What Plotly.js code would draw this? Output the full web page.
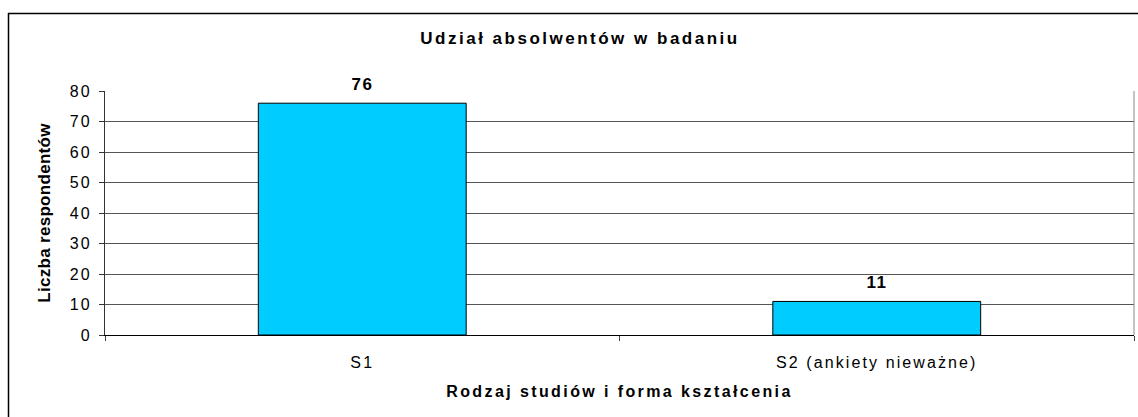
<!DOCTYPE html>
<html>
<head>
<meta charset="utf-8">
<script src="https://cdn.plot.ly/plotly-3.0.1.min.js"></script>
<style>
  html, body { margin: 0; padding: 0; background: #fff; overflow: hidden; }
  #chart { width: 1138px; height: 417px; }
  #chart .gtitle { letter-spacing: 2.5px; }
  #chart .xtitle { letter-spacing: 2.4px; }
  #chart .ytitle { letter-spacing: 0.3px; }
  #chart .xtick text, #chart .ytick text { letter-spacing: 2.1px; }
  #chart .annotation-text { letter-spacing: 1.5px; }
</style>
</head>
<body>
<div id="chart"></div>
<script>
const categories = ["S1", "S2 (ankiety nieważne)"];
const values = [76, 11];
const chartTitle = "Udział absolwentów w badaniu";
const xTitle = "Rodzaj studiów i forma kształcenia";
const yTitle = "Liczba respondentów";

const FONT = "Liberation Sans, Arial, sans-serif";

const trace = {
  type: "bar",
  x: categories,
  y: values,
  width: 0.404,
  marker: { color: "#00CCFF", line: { color: "#000000", width: 1 } },
  hoverinfo: "none"
};

const annotations = categories.map((c, i) => ({
  x: c, y: values[i], xref: "x", yref: "y",
  text: String(values[i]),
  showarrow: false, yanchor: "bottom", yshift: 7,
  font: { family: FONT, size: 17, color: "#000", weight: "bold" }
}));

const plotL = 105, plotR = 1134, plotT = 91, plotB = 335;
const pw = plotR - plotL, ph = plotB - plotT;
const px = v => (v - plotL) / pw;
const py = v => (plotB - v) / ph;

const layout = {
  width: 1138, height: 417,
  margin: { l: plotL, r: 1138 - plotR, t: plotT, b: 417 - plotB, pad: 0 },
  paper_bgcolor: "#ffffff",
  plot_bgcolor: "#ffffff",
  showlegend: false,
  bargap: 0,
  title: {
    text: chartTitle,
    font: { family: FONT, size: 17, color: "#000", weight: "bold" },
    xref: "container", yref: "container",
    x: 580 / 1138, xanchor: "center",
    y: 1 - 38 / 417, yanchor: "middle"
  },
  xaxis: {
    type: "category",
    range: [-0.5, 1.5],
    showgrid: false,
    showline: true, linecolor: "#000", linewidth: 1,
    ticks: "outside", tickson: "boundaries", ticklen: 5, tickcolor: "#444", tickwidth: 1,
    tickfont: { family: FONT, size: 16, color: "#000" },
    ticklabelstandoff: 13,
    title: {
      text: xTitle,
      font: { family: FONT, size: 16, color: "#000", weight: "bold" },
      standoff: 15
    },
    zeroline: false, fixedrange: true
  },
  yaxis: {
    range: [0, 80],
    dtick: 10,
    showgrid: true, gridcolor: "#555555", gridwidth: 1,
    showline: true, linecolor: "#333", linewidth: 1,
    ticks: "outside", ticklen: 5, tickcolor: "#333", tickwidth: 1,
    tickfont: { family: FONT, size: 16, color: "#000" },
    ticklabelstandoff: 4,
    title: {
      text: yTitle,
      font: { family: FONT, size: 17, color: "#000", weight: "bold" },
      standoff: 19
    },
    zeroline: false, fixedrange: true
  },
  annotations: annotations,
  shapes: [
    {
      type: "line", xref: "paper", yref: "paper",
      x0: px(8), x1: px(1138), y0: py(13.5), y1: py(13.5),
      line: { color: "#000", width: 1.5 }
    },
    {
      type: "line", xref: "paper", yref: "paper",
      x0: px(8.5), x1: px(8.5), y0: py(13), y1: py(417),
      line: { color: "#000", width: 1.5 }
    },
    {
      type: "line", xref: "paper", yref: "paper",
      x0: 1, x1: 1, y0: 0, y1: 1,
      line: { color: "#888888", width: 1 }
    }
  ]
};

Plotly.newPlot("chart", [trace], layout, { displayModeBar: false, staticPlot: true });
</script>
</body>
</html>
